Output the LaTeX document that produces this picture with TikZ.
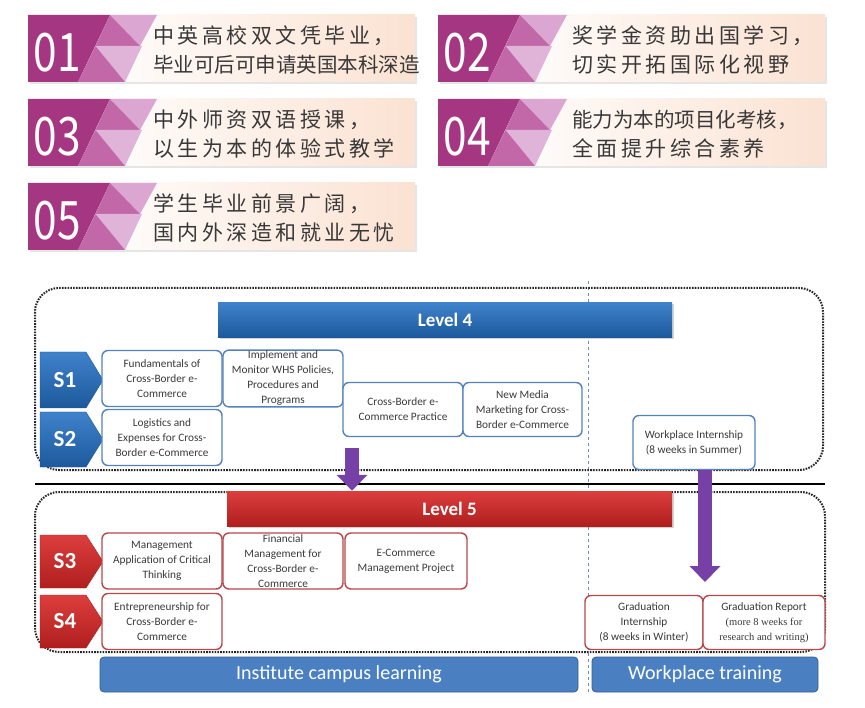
\documentclass[tikz,border=0pt]{standalone}
\usepackage{fontspec}
\usepackage{graphicx}
\setmainfont{Carlito}
\newfontfamily\cjk{Noto Sans CJK SC}
\newfontfamily\timesf{Liberation Serif}
\usetikzlibrary{arrows.meta,shadows}

\definecolor{cardpurple}{HTML}{A53782}
\definecolor{cardmid}{HTML}{C267A8}
\definecolor{cardlight}{HTML}{DBA7D2}
\definecolor{cardpeach}{HTML}{FBE2D2}
\definecolor{cjkgray}{HTML}{383838}
\definecolor{textgray}{HTML}{3A3A3A}
\definecolor{boxblue}{HTML}{5582BE}
\definecolor{boxred}{HTML}{B8474A}
\definecolor{bluetop}{HTML}{3F82CB}
\definecolor{bluebot}{HTML}{1D599C}
\definecolor{redtop}{HTML}{DC3E3D}
\definecolor{redbot}{HTML}{AF1F1E}
\definecolor{footblue}{HTML}{4A80C2}
\definecolor{arrowpurple}{HTML}{7640A6}
\definecolor{splitblue}{HTML}{6F8DB8}

% letter spacing for the wide CJK lines
\newcommand{\spaced}[1]{\spacedloop#1\relax}
\def\spacedloop#1{\ifx#1\relax\else#1\hspace{3.5pt}\expandafter\spacedloop\fi}
\newcommand{\tight}[1]{{\fontsize{20.5}{29}\selectfont #1}}

% one numbered card: x, y, number, text x, line 1, line 2
\newcommand{\infocard}[6]{%
  \begin{scope}[shift={(#1,#2)}]
    \fill[black!10] (2,2) rectangle (389,69);
    \shade[left color=white, right color=cardpeach] (50,0) rectangle (387,67);
    \fill[cardpurple] (0,0) -- (82,0) -- (50,67) -- (0,67) -- cycle;
    \fill[cardlight] (82,0) -- (129,0) -- (112,31) -- cycle;
    \fill[cardmid] (82,0) -- (112,31) -- (67.5,31) -- cycle;
    \fill[cardlight!85!white] (67.5,31) -- (114,31) -- (97,67) -- cycle;
    \fill[cardmid] (67.5,31) -- (97,67) -- (50,67) -- cycle;
    \node[cardnum] (num#3) at (29.5,37.5) {\scalebox{0.8}[1]{#3}};
    \node[cardtxt] (txt#3) at (#4,35) {#5\\#6};
  \end{scope}}

% semester tag: top, bottom, name
\newcommand{\semtag}[4]{%
  \shade[top color=#4top, bottom color=#4bot, draw=#4bot, thin]
    (40,#1) -- (86,#1) -- (103,{(#1+#2)/2}) -- (86,#2) -- (40,#2) -- cycle;
  \node[semtxt] (#3) at (65,{(#1+#2)/2}) {\MakeUppercase{#3}};}

\begin{document}
\begin{tikzpicture}[x=1pt, y=-1pt,
  cardnum/.style={inner sep=0, text=white, font=\cjk\fontsize{53}{53}\selectfont},
  cardtxt/.style={anchor=west, align=left, inner sep=0, text=cjkgray, font=\cjk\fontsize{21}{29}\selectfont},
  course/.style={line width=1.4pt, rounded corners=6pt, fill=white, align=center, inner sep=1pt, text=textgray, minimum width=120pt, minimum height=56pt, font=\fontsize{11.3}{15}\selectfont},
  c4/.style={course, draw=boxblue},
  c5/.style={course, draw=boxred},
  semtxt/.style={inner sep=0, text=white, font=\bfseries\fontsize{23}{23}\selectfont},
  lvbar/.style={inner sep=0, minimum height=35pt, text=white, font=\bfseries\fontsize{19}{19}\selectfont, drop shadow={opacity=0.35, shadow xshift=2pt, shadow yshift=-2pt}},
  foot/.style={rounded corners=4pt, fill=footblue, draw=footblue!75!black, line width=0.8pt, minimum height=35pt, inner sep=0, text=white, font=\fontsize{20}{20}\selectfont},
  dotbox/.style={draw=black!85, line width=2pt, dash pattern=on 1.6pt off 1.2pt, rounded corners=24pt},
  fatarrow/.style={line width=14pt, draw=arrowpurple, -{Triangle[width=30pt, length=16pt]}}]
  \useasboundingbox (0,0) rectangle (865,708);

  % cards
  \infocard{28}{15}{01}{125}{\spaced{中英高校双文凭毕业，}}{\tight{毕业可后可申请英国本科深造}}
  \infocard{438}{15}{02}{134}{\spaced{奖学金资助出国学习，}}{\spaced{切实开拓国际化视野}}
  \infocard{28}{99}{03}{125}{\spaced{中外师资双语授课，}}{\spaced{以生为本的体验式教学}}
  \infocard{438}{99}{04}{134}{\tight{能力为本的项目化考核，}}{\spaced{全面提升综合素养}}
  \infocard{28}{183}{05}{125}{\spaced{学生毕业前景广阔，}}{\spaced{国内外深造和就业无忧}}

  % frames
  \draw[splitblue, dashed, line width=0.8pt] (588,281) -- (588,694);
  \draw[dotbox] (35,288) rectangle (823,470);
  \draw[line width=2.5pt] (35,484) -- (825,484);
  \draw[dotbox] (35,492) rectangle (825,652);

  % level 4
  \node[lvbar, top color=bluetop, bottom color=bluebot, minimum width=454pt] (lv4) at (445,320) {Level 4};
  \semtag{352}{408}{s1}{blue}
  \semtag{412}{467}{s2}{blue}
  \node[c4] (fund) at (162,378.5) {Fundamentals of\\Cross-Border e-\\Commerce};
  \node[c4] (logi) at (162,437.5) {Logistics and\\Expenses for Cross-\\Border e-Commerce};
  \node[c4] (impl) at (283,378.5) {Implement and\\Monitor WHS Policies,\\Procedures and\\Programs};
  \node[c4, minimum height=54pt] (cbp) at (403,409.5) {Cross-Border e-\\Commerce Practice};
  \node[c4, minimum height=54pt, minimum width=119pt] (nmm) at (522.5,409.5) {New Media\\Marketing for Cross-\\Border e-Commerce};
  \node[c4, minimum height=54pt, minimum width=122pt] (wint) at (694,442.5) {Workplace Internship\\(8 weeks in Summer)};

  % level 5
  \node[lvbar, top color=redtop, bottom color=redbot, minimum width=445pt] (lv5) at (449.5,508.5) {Level 5};
  \semtag{535}{588}{s3}{red}
  \semtag{595}{648}{s4}{red}
  \node[c5] (mgmt) at (162,561) {Management\\Application of Critical\\Thinking};
  \node[c5] (fin) at (283,561) {Financial\\Management for\\Cross-Border e-\\Commerce};
  \node[c5, minimum width=122pt] (ecmp) at (406,561) {E-Commerce\\Management Project};
  \node[c5] (entr) at (162,621.5) {Entrepreneurship for\\Cross-Border e-\\Commerce};
  \node[c5, minimum width=118pt, minimum height=54pt] (gint) at (644,622.5) {Graduation\\Internship\\(8 weeks in Winter)};
  \node[c5, minimum width=122pt, minimum height=54pt] (grep) at (764,622.5) {Graduation Report\\{\timesf\fontsize{10.5}{15}\selectfont (more 8 weeks for}\\{\timesf\fontsize{10.5}{15}\selectfont research and writing)}};

  % arrows
  \coordinate (a1s) at (352,448);
  \coordinate (gtip) at (705,582);
  \draw[fatarrow] (a1s) -- (a1s |- lv5.north);
  \draw[fatarrow] (wint.south -| gtip) -- (gtip);

  % footers
  \node[foot, minimum width=478pt] (campus) at (339,674.5) {Institute campus learning};
  \node[foot, minimum width=226pt] (work) at (705,674.5) {Workplace training};
\end{tikzpicture}
\end{document}
